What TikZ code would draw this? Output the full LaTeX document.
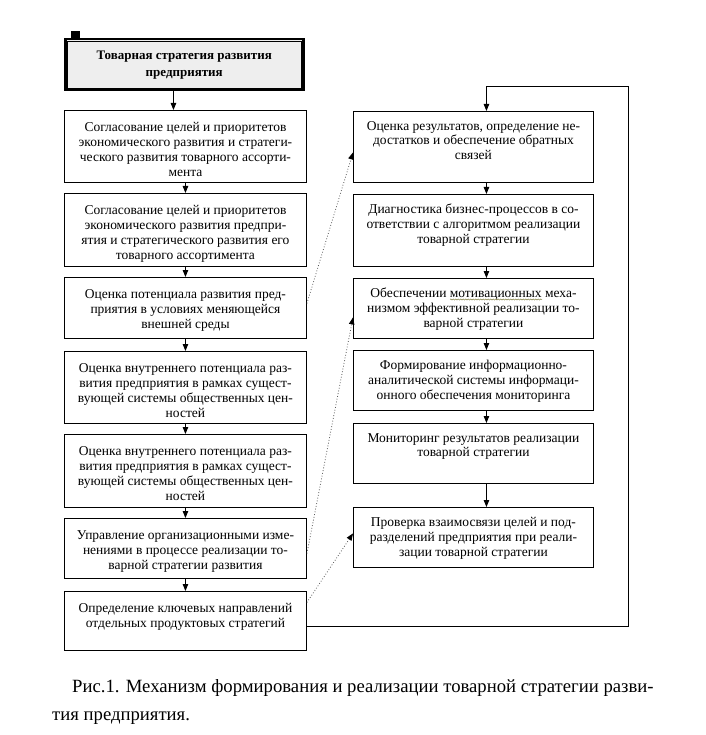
\documentclass[tikz,border=0pt]{standalone}
\usepackage{fontspec}
\setmainfont{Liberation Serif}
\usetikzlibrary{arrows.meta,decorations.pathmorphing}
\begin{document}
\begin{tikzpicture}[x=1pt,y=-1pt,
  box/.style={draw,line width=0.9pt,rectangle,inner sep=0pt,anchor=north west},
  txt/.style={anchor=north,inner sep=0pt,align=center,font=\fontsize{13.5}{14.8}\selectfont},
  arr/.style={line width=0.8pt,-{Triangle[length=7pt,width=5.5pt]}},
  dotarr/.style={black!65,dotted,line width=0.8pt,-{Triangle[length=7pt,width=5.5pt,color=black]}}
]
\useasboundingbox[fill=white] (0,0) rectangle (705,735);
% title
\node[draw,line width=2.5pt,fill=gray!13,minimum width=238pt,minimum height=51pt,inner sep=0pt,anchor=north west] (T) at (64,38) {};
\draw[line width=0.7pt] ([shift={(3.5pt,-3.5pt)}]T.north west) rectangle ([shift={(-3.5pt,3.5pt)}]T.south east);
\node[anchor=center,inner sep=0pt,align=center,font=\fontsize{13}{17}\selectfont\bfseries] (Tt) at (T.center) {Товарная стратегия развития\\предприятия};
\fill (71,31) rectangle (80,40);
% left column
\node[box,minimum width=242pt,minimum height=72pt] (L1) at (64,110) {};
\node[box,minimum width=242pt,minimum height=73pt] (L2) at (64,193) {};
\node[box,minimum width=242pt,minimum height=61pt] (L3) at (64,277) {};
\node[box,minimum width=242pt,minimum height=72pt] (L4) at (64,351) {};
\node[box,minimum width=242pt,minimum height=73pt] (L5) at (64,434) {};
\node[box,minimum width=242pt,minimum height=60pt] (L6) at (64,518) {};
\node[box,minimum width=242pt,minimum height=59pt] (L7) at (64,591) {};
\node[txt] (L1t) at ([yshift=-12.5pt]L1.north) {Согласование целей и приоритетов\\экономического развития и стратеги-\\ческого развития товарного ассорти-\\мента};
\node[txt] (L2t) at ([yshift=-12.5pt]L2.north) {Согласование целей и приоритетов\\экономического развития предпри-\\ятия и стратегического развития его\\товарного ассортимента};
\node[txt] (L3t) at ([yshift=-12.5pt]L3.north) {Оценка потенциала развития пред-\\приятия в условиях меняющейся\\внешней среды};
\node[txt] (L4t) at ([yshift=-12.5pt]L4.north) {Оценка внутреннего потенциала раз-\\вития предприятия в рамках сущест-\\вующей системы общественных цен-\\ностей};
\node[txt] (L5t) at ([yshift=-12.5pt]L5.north) {Оценка внутреннего потенциала раз-\\вития предприятия в рамках сущест-\\вующей системы общественных цен-\\ностей};
\node[txt] (L6t) at ([yshift=-12.5pt]L6.north) {Управление организационными изме-\\нениями в процессе реализации то-\\варной стратегии развития};
\node[txt] (L7t) at ([yshift=-12.5pt]L7.north) {Определение ключевых направлений\\отдельных продуктовых стратегий};
% right column
\node[box,minimum width=240pt,minimum height=71pt] (R1) at (353,111) {};
\node[box,minimum width=240pt,minimum height=72pt] (R2) at (353,194) {};
\node[box,minimum width=240pt,minimum height=60pt] (R3) at (353,278) {};
\node[box,minimum width=240pt,minimum height=60pt] (R4) at (353,350) {};
\node[box,minimum width=240pt,minimum height=60pt] (R5) at (353,423) {};
\node[box,minimum width=240pt,minimum height=60pt] (R6) at (353,507) {};
\node[txt] (R1t) at ([yshift=-10pt]R1.north) {Оценка результатов, определение не-\\достатков и обеспечение обратных\\связей};
\node[txt] (R2t) at ([yshift=-10pt]R2.north) {Диагностика бизнес-процессов в со-\\ответствии с алгоритмом реализации\\товарной стратегии};
\node[txt] (R3t) at ([yshift=-10pt]R3.north) {Обеспечении мотивационных меха-\\низмом эффективной реализации то-\\варной стратегии};
\node[txt] (R4t) at ([yshift=-10pt]R4.north) {Формирование информационно-\\аналитической системы информаци-\\онного обеспечения мониторинга};
\node[txt] (R5t) at ([yshift=-10pt]R5.north) {Мониторинг результатов реализации\\товарной стратегии};
\node[txt] (R6t) at ([yshift=-10pt]R6.north) {Проверка взаимосвязи целей и под-\\разделений предприятия при реали-\\зации товарной стратегии};
\draw[olive!70!black,line width=0.4pt,decorate,decoration={snake,segment length=2.5pt,amplitude=0.6pt}] (450,299.5) -- (542,299.5);
% solid arrows
\draw[arr] ([xshift=-12pt]L1.north |- T.south) -- ([xshift=-12pt]L1.north);
\draw[arr] (L1) -- (L2);
\draw[arr] (L2) -- (L3);
\draw[arr] (L3) -- (L4);
\draw[arr] (L4) -- (L5);
\draw[arr] (L5) -- (L6);
\draw[arr] (L6) -- (L7);
\draw[arr] ([xshift=13pt]R1.south) -- ([xshift=13pt]R2.north);
\draw[arr] ([xshift=13pt]R2.south) -- ([xshift=13pt]R3.north);
\draw[arr] ([xshift=13pt]R3.south) -- ([xshift=13pt]R4.north);
\draw[arr] ([xshift=13pt]R4.south) -- ([xshift=13pt]R5.north);
\draw[arr] ([xshift=13pt]R5.south) -- ([xshift=13pt]R6.north);
% feedback loop
\coordinate (loopTR) at (628,86);
\draw[arr] ([yshift=-5.5pt]L7.east) -| (loopTR) -| ([xshift=13pt]R1.north);
% dotted arrows
\draw[dotarr] ([yshift=4.5pt]L3.east) -- ([yshift=-5.5pt]R1.west);
\draw[dotarr] ([yshift=-5pt]L6.east) -- ([yshift=-9pt]R3.west);
\draw[dotarr] ([yshift=18.5pt]L7.east) -- ([yshift=4pt]R6.west);
% caption
\node[anchor=base west,inner sep=0pt,font=\fontsize{18.7}{28}\selectfont] (cap1) at (72,692) {Рис.1. Механизм формирования и реализации товарной стратегии разви-};
\node[anchor=base west,inner sep=0pt,font=\fontsize{18.7}{28}\selectfont] (cap2) at (52,720) {тия предприятия.};
\end{tikzpicture}
\end{document}
